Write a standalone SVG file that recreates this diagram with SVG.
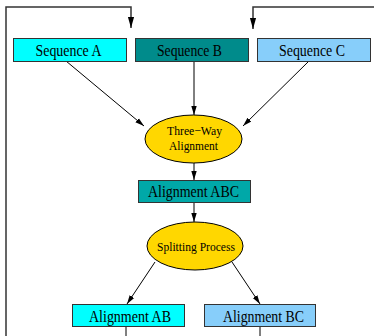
<svg xmlns="http://www.w3.org/2000/svg" width="374" height="336" viewBox="0 0 374 336">
<defs>
<marker id="arr" viewBox="0 0 10 10" refX="10" refY="5" markerWidth="9" markerHeight="9" markerUnits="userSpaceOnUse" orient="auto">
<path d="M0,2 L10,5 L0,8 z" fill="#000"/>
</marker>
<marker id="arrL" viewBox="0 0 10 10" refX="10" refY="5" markerWidth="11" markerHeight="11" markerUnits="userSpaceOnUse" orient="auto">
<path d="M0,2.2 L10,5 L0,7.8 z" fill="#000"/>
</marker>
</defs>
<style>
.box{stroke:#333;stroke-width:1}
.ell{fill:#FFD700;stroke:#000;stroke-width:1}
.t{font-family:"Liberation Serif",serif;fill:#000;text-anchor:middle}
.e{fill:none;stroke:#000;stroke-width:1}
.f{fill:none;stroke:#333;stroke-width:1.5}
</style>
<rect width="374" height="336" fill="#fff"/>
<g id="connectors">
<polyline class="f" points="6,336 6,7 131,7 131,28" marker-end="url(#arrL)"/>
<polyline class="f" points="374,7 253,7 253,29" marker-end="url(#arrL)"/>
<line class="e" x1="66" y1="61" x2="144" y2="126" marker-end="url(#arr)"/>
<line class="e" x1="194" y1="61" x2="194" y2="115" marker-end="url(#arr)"/>
<line class="e" x1="309" y1="61" x2="243" y2="126" marker-end="url(#arr)"/>
<line class="e" x1="194" y1="163" x2="194" y2="180" marker-end="url(#arr)"/>
<line class="e" x1="194" y1="203" x2="194" y2="222" marker-end="url(#arr)"/>
<line class="e" x1="155" y1="262" x2="127" y2="304" marker-end="url(#arr)"/>
<line class="e" x1="232" y1="262" x2="260" y2="304" marker-end="url(#arr)"/>
<line class="e" x1="126" y1="327" x2="126" y2="336"/>
<line class="e" x1="260" y1="327" x2="260" y2="336"/>
</g>
<g id="seqA">
<rect class="box" x="13.5" y="38.5" width="113" height="23" fill="#00FFFF"/>
<text class="t" x="68.5" y="56" font-size="16" textLength="66" lengthAdjust="spacingAndGlyphs">Sequence A</text>
</g>
<g id="seqB">
<rect class="box" x="135.5" y="38.5" width="113" height="23" fill="#008B8B"/>
<text class="t" x="189.5" y="56" font-size="16" textLength="65" lengthAdjust="spacingAndGlyphs">Sequence B</text>
</g>
<g id="seqC">
<rect class="box" x="257.5" y="38.5" width="113" height="23" fill="#87CEFA"/>
<text class="t" x="312" y="56" font-size="16" textLength="66" lengthAdjust="spacingAndGlyphs">Sequence C</text>
</g>
<g id="threeway">
<ellipse class="ell" cx="193.5" cy="139" rx="48.5" ry="24"/>
<text class="t" x="194.5" y="135" font-size="13" textLength="55" lengthAdjust="spacingAndGlyphs">Three−Way</text>
<text class="t" x="193.5" y="150" font-size="13" textLength="49" lengthAdjust="spacingAndGlyphs">Alignment</text>
</g>
<g id="alignABC">
<rect class="box" x="138.5" y="180.5" width="112" height="22" fill="#00A8A8"/>
<text class="t" x="193.5" y="197" font-size="16.5" textLength="91" lengthAdjust="spacingAndGlyphs">Alignment ABC</text>
</g>
<g id="splitting">
<ellipse class="ell" cx="195" cy="246" rx="48" ry="24"/>
<text class="t" x="196" y="251" font-size="13" textLength="78" lengthAdjust="spacingAndGlyphs">Splitting Process</text>
</g>
<g id="alignAB">
<rect class="box" x="72.5" y="304.5" width="112" height="22" fill="#00FFFF"/>
<text class="t" x="130" y="322" font-size="16" textLength="82" lengthAdjust="spacingAndGlyphs">Alignment AB</text>
</g>
<g id="alignBC">
<rect class="box" x="204.5" y="304.5" width="111" height="22" fill="#87CEFA"/>
<text class="t" x="263.5" y="322" font-size="16" textLength="81" lengthAdjust="spacingAndGlyphs">Alignment BC</text>
</g>
</svg>
